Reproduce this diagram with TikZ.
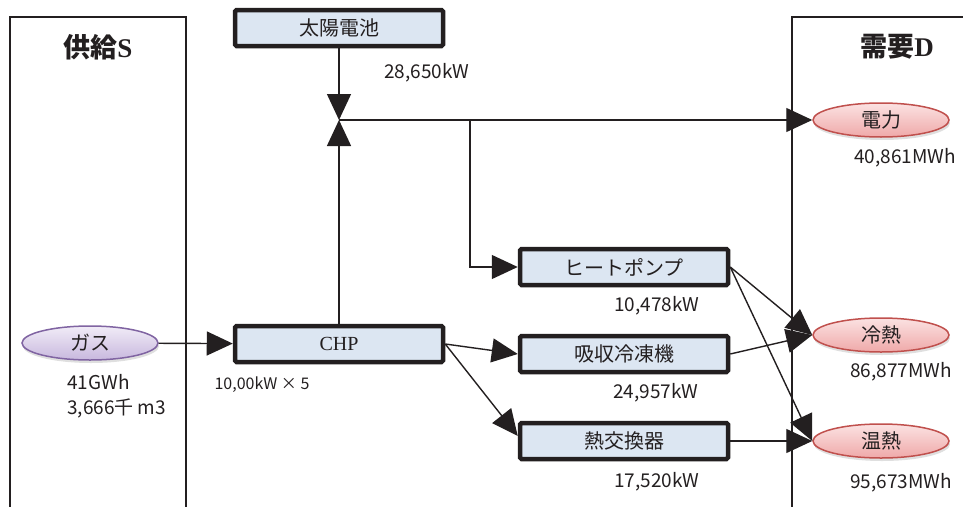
\documentclass[tikz,border=0pt]{standalone}
\usepackage{fontspec}
\setmainfont{Noto Sans CJK JP}
\newfontfamily\latinserif{Liberation Serif}
\usetikzlibrary{arrows.meta, positioning, shadows, calc, shapes.geometric}
\definecolor{InkBlack}{HTML}{231F20}
\definecolor{UnitFill}{HTML}{DCE6F2}
\definecolor{DemandLine}{HTML}{C0504D}
\definecolor{DemandTop}{HTML}{FBE2E2}
\definecolor{DemandBottom}{HTML}{EFA9A9}
\definecolor{SupplyLine}{HTML}{8064A2}
\definecolor{SupplyTop}{HTML}{F1ECF7}
\definecolor{SupplyBottom}{HTML}{C8B8DE}
\tikzset{
    % Node styles
    unitbox/.style={
        rectangle,
        draw=InkBlack,
        fill=UnitFill,
        line width=4.5pt,
        rounded corners=1.5pt,
        minimum width=208pt,
        minimum height=36pt,
        inner sep=0pt,
        text=InkBlack,
        font=\fontsize{20}{22}\selectfont
    },
    demandnode/.style={
        ellipse,
        draw=DemandLine,
        line width=1.5pt,
        top color=DemandTop,
        bottom color=DemandBottom,
        minimum width=136pt,
        minimum height=34pt,
        inner sep=0pt,
        text=InkBlack,
        font=\fontsize{20}{22}\selectfont,
        drop shadow={opacity=0.25, shadow xshift=1pt, shadow yshift=-3pt}
    },
    supplynode/.style={
        demandnode,
        draw=SupplyLine,
        top color=SupplyTop,
        bottom color=SupplyBottom
    },
    % Arrow styles
    flow/.style={
        -{Triangle[length=26pt,width=24pt]},
        line width=1.4pt,
        InkBlack
    },
    panel/.style={
        draw=InkBlack,
        line width=2pt
    },
    % Text styles
    valtext/.style={
        inner sep=0pt,
        text=InkBlack,
        font=\fontsize{19}{22}\selectfont
    },
    titletext/.style={
        inner sep=0pt,
        text=InkBlack,
        font=\fontsize{27}{30}\selectfont\bfseries
    }
}
\begin{document}
\begin{tikzpicture}[x=1pt, y=-1pt]
    \useasboundingbox (0,0) rectangle (963,506);

    % Supply and demand panels
    \draw[panel] (10,520) -- (10,17) -- (186,17) -- (186,520);
    \draw[panel] (792,520) -- (792,17) -- (980,17);
    \node[titletext] (supplytitle) at (98,47) {供給{\latinserif S}};
    \node[titletext] (demandtitle) at (897,47) {需要{\latinserif D}};

    % Units
    \node[unitbox] (pv) at (339,28) {太陽電池};
    \node[unitbox, font=\fontsize{20}{22}\latinserif] (chp) at (339,344) {CHP};
    \node[unitbox] (hp) at (624,267) {ヒートポンプ};
    \node[unitbox] (absorb) at (624,354) {吸収冷凍機};
    \node[unitbox] (hx) at (624,441) {熱交換器};

    % Supply and demand nodes
    \node[supplynode] (gas) at (90,343) {ガス};
    \node[demandnode] (power) at (881,120) {電力};
    \node[demandnode] (cold) at (881,335) {冷熱};
    \node[demandnode] (heat) at (881,441) {温熱};

    % Values
    \node[valtext] (pvval) at (427,73) {28,650kW};
    \node[valtext, font=\fontsize{16}{20}\selectfont] (chpval) at (262,385) {10,00kW × 5};
    \node[valtext] (hpval) at (657,306) {10,478kW};
    \node[valtext] (absorbval) at (656,393) {24,957kW};
    \node[valtext] (hxval) at (657,482) {17,520kW};
    \node[valtext, anchor=west] (gasval) at (67,382) {41GWh};
    \node[valtext, anchor=west] (gasvol) at (67,408) {3,666千 m3};
    \node[valtext] (powerval) at (905,158) {40,861MWh};
    \node[valtext] (coldval) at (901,372) {86,877MWh};
    \node[valtext] (heatval) at (901,483) {95,673MWh};

    % Flows
    \coordinate (join) at (339,120);
    \coordinate (branch) at (470,120);
    \draw[flow] (gas) -- (chp);
    \draw[flow] (pv) -- (join);
    \draw[flow] (chp) -- (join);
    \draw[flow] (join) -- (power);
    \draw[flow] (branch) |- (hp);
    \draw[flow] (chp.east) -- (absorb.west);
    \draw[flow] (chp.east) -- ([yshift=5pt]hx.west);
    \draw[flow] (hp.east) -- (cold.west);
    \draw[flow] (absorb.east) -- (cold.west);
    \draw[flow] (hp.east) -- (heat.west);
    \draw[flow] (hx.east) -- (heat.west);
\end{tikzpicture}
\end{document}
